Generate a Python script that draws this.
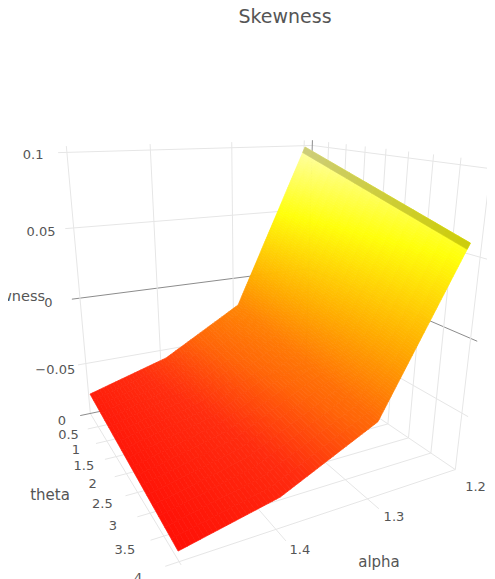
import numpy as np, altair as alt, pandas as pd

# values: one row of the surface per alpha
alpha = [1.2, 1.3, 1.4, 1.491]
theta_lo = [0.03, 0.19, 0.28, 0.11]
theta_hi = [3.97, 4.10, 4.09, 3.98]
skew_lo = [0.0991, -0.0195, -0.0514, -0.0724]
skew_hi = [0.0587, -0.0369, -0.0672, -0.0847]
z_ticks = [0.1, 0.05, 0, -0.05]
z_labels = ["0.1", "0.05", "0", "\u22120.05"]
theta_ticks = [0, 0.5, 1, 1.5, 2, 2.5, 3, 3.5, 4]
theta_labels = ["0", "0.5", "1", "1.5", "2", "2.5", "3", "3.5", "4"]
alpha_ticks = [1.2, 1.3, 1.4]
alpha_labels = ["1.2", "1.3", "1.4"]
color_z = [-0.09, -0.06, -0.04, 0.0, 0.05, 0.1]
color_rgb = [(255, 10, 5), (255, 45, 15), (255, 100, 8), (255, 170, 0), (255, 255, 10), (255, 255, 175)]

# scene camera (3D to page)
CAM = np.array([[-228.92775, 27.52038, -27.73349, 305.73335],
                [-16.62326, -24.51923, -243.84508, 368.25824],
                [-0.14961, -0.26806, -0.11025, 1.0]])
AMIN, AMAX, TMIN, TMAX, ZMIN, ZMAX = 1.188, 1.491, 0.0, 4.0, -0.0906, 0.104
W, H = 479, 571
GRID, DARK, INK = "#e6e6e6", "#8c8c8c", "#555555"
FONT = "DejaVu Sans"

def proj(a, t, z):
    u, v, w = (a - AMIN) / (AMAX - AMIN), t / 4.0, 0.465 + 5.13 * z
    h = CAM @ np.array([u, v, w, 1.0])
    return float(h[0] / h[2] - 8), float(h[1] / h[2] - 8)

def shade(z):
    c = [np.interp(z, color_z, [rgb[i] for rgb in color_rgb]) for i in range(3)]
    return "#%02x%02x%02x" % tuple(int(round(x)) for x in c)

def row(s, k):
    """alpha, theta ends and skew ends at fraction k of surface segment s"""
    f = lambda arr: arr[s] + (arr[s + 1] - arr[s]) * k
    return f(alpha), f(theta_lo), f(theta_hi), f(skew_lo), f(skew_hi)

def tile(r0, r1, m0, m1, col):
    a0, tl0, th0, zl0, zh0 = r0
    a1, tl1, th1, zl1, zh1 = r1
    ring = [proj(a0, tl0 + (th0 - tl0) * m0, zl0 + (zh0 - zl0) * m0),
            proj(a0, tl0 + (th0 - tl0) * m1, zl0 + (zh0 - zl0) * m1),
            proj(a1, tl1 + (th1 - tl1) * m1, zl1 + (zh1 - zl1) * m1),
            proj(a1, tl1 + (th1 - tl1) * m0, zl1 + (zh1 - zl1) * m0)]
    ring.append(ring[0])
    return {"type": "Feature", "properties": {"c": col},
            "geometry": {"type": "Polygon", "coordinates": [[list(p) for p in ring]]}}

features = []
NV = 18
for s, nu in enumerate([70, 30, 24]):
    for i in range(nu):
        r0, r1 = row(s, i / nu), row(s, (i + 1) / nu)
        for j in range(NV):
            m0, m1 = j / NV, (j + 1) / NV
            zm = ((r0[3] + r1[3]) / 2) * (1 - (m0 + m1) / 2) + ((r0[4] + r1[4]) / 2) * (m0 + m1) / 2
            features.append(tile(r0, r1, m0, m1, shade(zm)))
# olive rim along the top edge of the surface
r0, r1 = row(0, 0), row(0, 0.035)
for j in range(NV):
    m0, m1 = j / NV, (j + 1) / NV
    mid = (m0 + m1) / 2
    features.append(tile(r0, r1, m0, m1, "#%02x%02x%02x" % (205, 205, int(125 - 115 * mid))))

# grid
rows = []
def seg(key, p, q, col):
    rows.append({"k": key, "o": 0, "x": p[0], "y": p[1], "col": col})
    rows.append({"k": key, "o": 1, "x": q[0], "y": q[1], "col": col})
for z in z_ticks:
    col = DARK if z == 0 else GRID
    seg(f"zl{z}", proj(AMIN, TMIN, z), proj(AMAX + 0.009, TMIN, z), col)
    seg(f"zr{z}", proj(AMIN, TMIN, z), proj(AMIN, TMAX + 0.115, z), col)
for a in alpha_ticks + [AMAX]:
    seg(f"av{a}", proj(a, TMIN, ZMIN), proj(a, TMIN, ZMAX), GRID)
for a in alpha_ticks[1:] + [AMAX]:
    seg(f"af{a}", proj(a, TMIN, ZMIN), proj(a, TMAX + (0.24 if a < AMAX else 0.06), ZMIN), GRID)
for t in theta_ticks:
    col = DARK if t == 0 else GRID
    seg(f"tv{t}", proj(AMIN, t, ZMIN), proj(AMIN, t, ZMAX), col)
    seg(f"tf{t}", proj(AMIN, t, ZMIN), proj(AMAX + 0.012, t, ZMIN), col)
seg("edge", proj(AMIN, TMIN, ZMIN), proj(AMIN, TMAX, ZMIN), GRID)
grid = pd.DataFrame(rows)
X = alt.X("x:Q", scale=alt.Scale(domain=[0, W]), axis=None)
Y = alt.Y("y:Q", scale=alt.Scale(domain=[H, 0]), axis=None)

lines = alt.Chart(grid).mark_line(strokeWidth=1, clip=False).encode(
    x=X, y=Y, detail="k:N", order="o:Q", color=alt.Color("col:N", scale=None))

surface = alt.Chart(alt.Data(values=features)).mark_geoshape(strokeWidth=0.7).encode(
    fill=alt.Color("properties.c:N", scale=None),
    stroke=alt.Color("properties.c:N", scale=None),
).project(type="identity", scale=1, translate=[0, 0])

labs = []
for z, s in zip(z_ticks, z_labels):
    x, y = proj(AMAX + 0.009, TMIN, z)
    labs.append({"x": x - 25 + (0.1 - z) * 15, "y": y + 2 + (0.1 - z) * 20, "s": s})
for t, s in zip(theta_ticks, theta_labels):
    x, y = proj(AMAX + 0.038, t, ZMIN)
    labs.append({"x": x + 4, "y": y + 1, "s": s})
for a, s in zip(alpha_ticks, alpha_labels):
    x, y = proj(a, TMAX, ZMIN)
    labs.append({"x": x + 29 - (a - 1.2) * 25, "y": y + 15 + (a - 1.2) * 30, "s": s})
ticks = alt.Chart(pd.DataFrame(labs)).mark_text(font=FONT, fontSize=13, color=INK, align="center", baseline="middle").encode(
    x=X, y=Y, text="s:N")

def label(s, x, y, size, align="center", color=INK):
    return alt.Chart(pd.DataFrame({"s": [s]})).mark_text(
        font=FONT, fontSize=size, color=color, align=align, baseline="middle"
    ).encode(x=alt.value(x), y=alt.value(y), text="s:N")

chart = alt.layer(
    lines, surface, ticks,
    label("Skewness", 277, 9, 19),
    label("Skewness", 37, 289, 14.5, align="right"),
    label("theta", 42, 487, 15),
    label("alpha", 371, 554, 15),
).properties(width=W, height=H, padding=0, autosize=alt.AutoSizeParams(type="none"),
             background="white").configure_view(stroke=None)
chart.save("out.html", embed_options={"renderer": "svg", "actions": False})
